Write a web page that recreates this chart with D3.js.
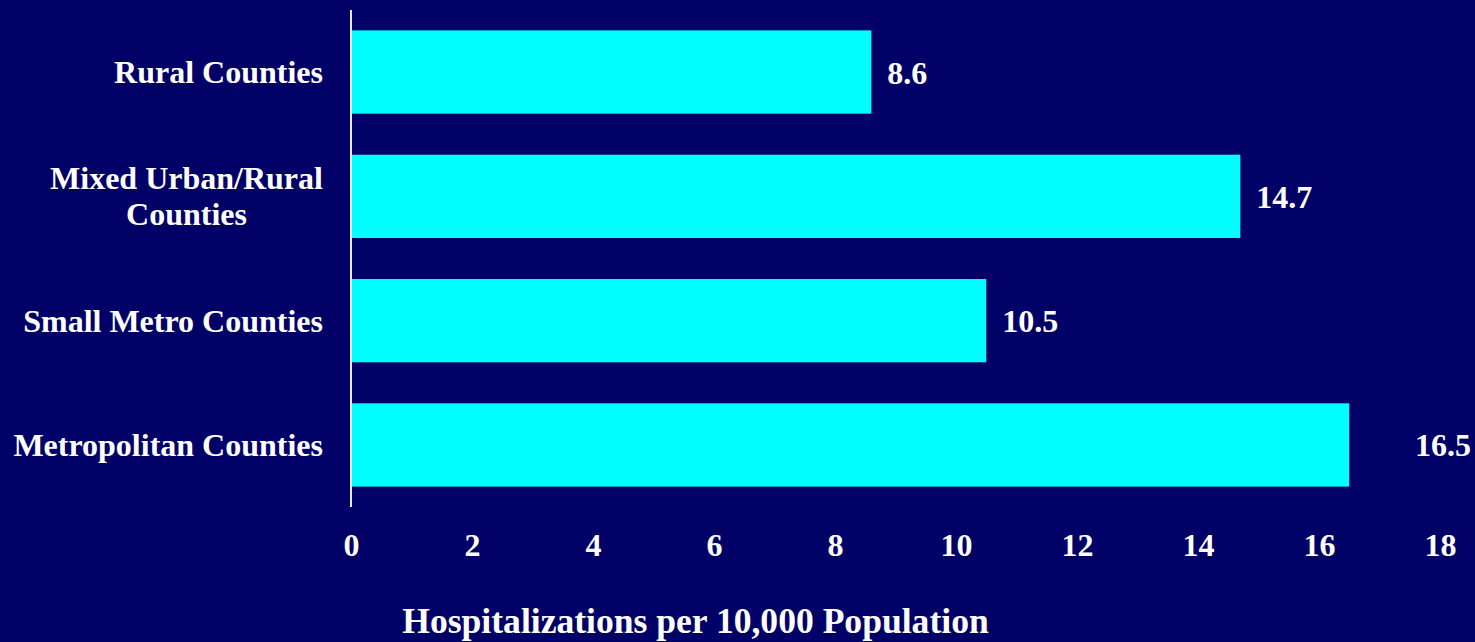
<!DOCTYPE html>
<html><head><meta charset="utf-8">
<script src="https://cdn.jsdelivr.net/npm/d3@7/dist/d3.min.js"></script>
<style>html,body{margin:0;padding:0;background:#000066;}svg{display:block;}</style>
</head><body>
<script>
const categories = [["Rural Counties"], ["Mixed Urban/Rural", "Counties"], ["Small Metro Counties"], ["Metropolitan Counties"]];
const values = [8.6, 14.7, 10.5, 16.5];
const valueLabels = ["8.6", "14.7", "10.5", "16.5"];
const tickValues = [0, 2, 4, 6, 8, 10, 12, 14, 16, 18];
const axisTitle = "Hospitalizations per 10,000 Population";

const W = 1475, H = 642;
const font = "'Liberation Serif','Times New Roman',serif";
const svg = d3.select("body").append("svg").attr("width", W).attr("height", H);
svg.append("rect").attr("width", W).attr("height", H).attr("fill", "#000066");

const x = d3.scaleLinear().domain([0, 18]).range([351, 1440]);
const y = d3.scaleBand().domain(d3.range(categories.length)).range([10, 507]).paddingInner(0.33).paddingOuter(0.164);

svg.selectAll("rect.bar").data(values).enter().append("rect")
  .attr("class", "bar")
  .attr("x", x(0)).attr("y", (d, i) => y(i))
  .attr("width", d => x(d) - x(0)).attr("height", y.bandwidth())
  .attr("fill", "#00FFFF");

// vertical axis line
svg.append("line").attr("x1", x(0)).attr("x2", x(0)).attr("y1", 10).attr("y2", 507)
  .attr("stroke", "#E8E8FF").attr("stroke-width", 2);

// category labels
categories.forEach((lines, i) => {
  const cy = y(i) + y.bandwidth() / 2;
  const lh = 36;
  const t = svg.append("text").attr("font-family", font).attr("font-weight", "bold")
    .attr("font-size", 32).attr("fill", "#fff");
  const n = lines.length;
  lines.forEach((ln, k) => {
    t.append("tspan").attr("x", 0).attr("y", cy + (k - (n - 1) / 2) * lh).attr("dy", "0.34em").text(ln);
  });
  const bb = t.node().getBBox();
  const right = x(0) - 28;
  const center = right - bb.width / 2;
  t.attr("text-anchor", "middle").selectAll("tspan").attr("x", center);
});

// value labels
svg.selectAll("text.val").data(values).enter().append("text")
  .attr("class", "val")
  .attr("x", (d, i) => i === values.length - 1 ? W - 4 : x(d) + 16)
  .attr("text-anchor", (d, i) => i === values.length - 1 ? "end" : "start")
  .attr("y", (d, i) => y(i) + y.bandwidth() / 2).attr("dy", "0.36em")
  .attr("font-family", font).attr("font-weight", "bold").attr("font-size", 32).attr("fill", "#fff")
  .text((d, i) => valueLabels[i]);

// x axis tick labels
const ax = svg.append("g").attr("transform", "translate(0,507)")
  .call(d3.axisBottom(x).tickValues(tickValues).tickSize(0).tickPadding(0).tickFormat(d3.format("d")));
ax.select(".domain").remove();
ax.selectAll("text").attr("font-family", font).attr("font-weight", "bold").attr("font-size", 32)
  .attr("fill", "#fff").attr("dy", null).attr("y", 49);

// axis title
svg.append("text").attr("x", (403 + 988) / 2).attr("y", 633).attr("text-anchor", "middle")
  .attr("font-family", font).attr("font-weight", "bold").attr("font-size", 35.6).attr("fill", "#fff")
  .text(axisTitle);
</script>
</body></html>
